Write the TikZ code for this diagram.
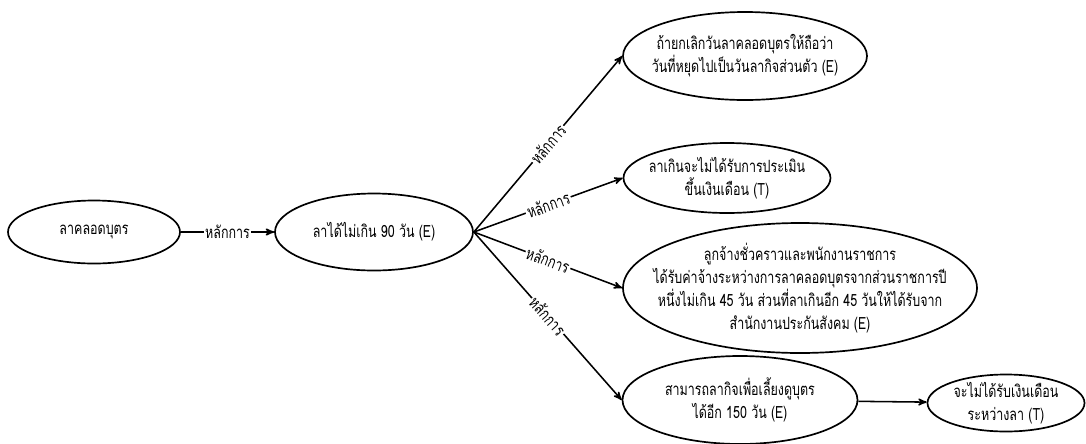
\documentclass[tikz,border=0pt]{standalone}
\usepackage{fontspec}
\newfontfamily\thaifont[Script=Thai, FakeStretch=0.74]{Loma}
\usepackage{tikz}
\usetikzlibrary{arrows,shapes.geometric}

\tikzset{
	ell/.style={draw, ellipse, line width=1.2pt, inner sep=0pt},
	txt/.style={align=center, font=\thaifont\fontsize{12}{16.5}\selectfont},
	lbl/.style={fill=white, inner sep=1pt, font=\thaifont\fontsize{12}{14}\selectfont}
}

\begin{document}
\begin{tikzpicture}[>=stealth', line width=1.1pt]
	\useasboundingbox (0,0) rectangle (27.15,-11.075);
	% Nodes {A, B, C, D, E, F, G}
	\node [ell, minimum width=4.3cm, minimum height=1.575cm, label={[txt]center:ลาคลอดบุตร}] (A) at (2.35,-5.8) {};
	\node [ell, minimum width=4.95cm, minimum height=1.925cm, label={[txt]center:ลาได้ไม่เกิน 90 วัน (E)}] (B) at (9.35,-5.8) {};
	\node [ell, minimum width=6.1cm, minimum height=2.2cm, label={[txt]center:ถ้ายกเลิกวันลาคลอดบุตรให้ถือว่า\\วันที่หยุดไปเป็นวันลากิจส่วนตัว (E)}] (C) at (18.625,-1.4) {};
	\node [ell, minimum width=5.175cm, minimum height=1.75cm, label={[txt]center:ลาเกินจะไม่ได้รับการประเมิน\\ขึ้นเงินเดือน (T)}] (D) at (18.175,-4.45) {};
	\node [ell, minimum width=8.85cm, minimum height=3.25cm, label={[txt]center:ลูกจ้างชั่วคราวและพนักงานราชการ\\ได้รับค่าจ้างระหว่างการลาคลอดบุตรจากส่วนราชการปี\\หนึ่งไม่เกิน 45 วัน ส่วนที่ลาเกินอีก 45 วันให้ได้รับจาก\\สำนักงานประกันสังคม (E)}] (E) at (20.0,-7.2) {};
	\node [ell, minimum width=5.875cm, minimum height=2.2cm, label={[txt]center:สามารถลากิจเพื่อเลี้ยงดูบุตร\\ได้อีก 150 วัน (E)}] (F) at (18.5,-10.0) {};
	\node [ell, minimum width=3.925cm, minimum height=1.425cm, label={[txt]center:จะไม่ได้รับเงินเดือน\\ระหว่างลา (T)}] (G) at (25.15,-10.075) {};

	% Paths
	\draw [->] (A) -- node [lbl] {หลักการ} (B);
	\draw [->] (B.east) -- node [lbl, sloped] {หลักการ} (C.west);
	\draw [->] (B.east) -- node [lbl, sloped] {หลักการ} (D.west);
	\draw [->] (B.east) -- node [lbl, sloped] {หลักการ} (E.west);
	\draw [->] (B.east) -- node [lbl, sloped] {หลักการ} (F.west);
	\draw [->] (F) -- (G);
\end{tikzpicture}
\end{document}
